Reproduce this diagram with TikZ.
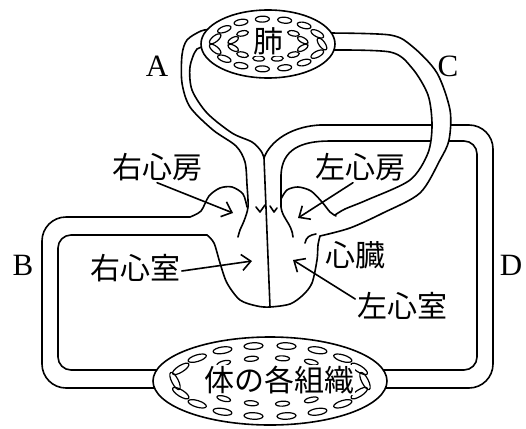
\documentclass[tikz,border=0pt]{standalone}
\usepackage{fontspec}
\setmainfont{Liberation Serif}
\newfontfamily\jp{Noto Sans CJK JP}
\usetikzlibrary{arrows.meta}
\begin{document}
\begin{tikzpicture}[x=1pt,y=-1pt,line width=1.6pt,line join=round,line cap=round,
  jlbl/.style={font=\jp\fontsize{30}{30}\selectfont,inner sep=1pt},
  llbl/.style={font=\fontsize{31}{31}\selectfont,inner sep=0pt},
  arr/.style={-{Straight Barb[length=9pt,width=16pt]}},
  alv/.style={line width=1.2pt}]
\useasboundingbox (0,0) rectangle (526,428);
\draw plot[smooth] coordinates {(212,29) (201,31) (187,40) (182,55) (182,83) (190,107) (213,130) (236,146) (245,162) (247,185) (248,207) (244,221) (240,230) (238,237)};
\draw plot[smooth] coordinates {(210,47) (197,49) (190,67) (192,90) (207,113) (232,133) (252,142) (261,151) (264,158)};
\draw (264,158) -- (270,307);
\draw (264,158) .. controls (268,146) and (285,127) .. (320,125) [rounded corners=24pt] -- (493,125) -- (493,388) -- (383,388);
\draw (293,237) .. controls (292,224) and (282,218) .. (281,207) -- (281,175) .. controls (282,150) and (300,141) .. (330,141) [rounded corners=13pt] -- (477,141) -- (477,370) -- (381,370);
\draw plot[smooth] coordinates {(247,207) (243,194) (232,187) (220,188) (209,196) (201,211) (190,217)};
\draw[rounded corners=24pt] (190,217) -- (42,217) -- (42,388) -- (157,388);
\draw[rounded corners=13pt] (159,370) -- (58,370) -- (58,235) -- (207,235);
\draw plot[smooth] coordinates {(207,235) (214,243) (220,263) (227,283) (240,300) (257,306) (270,307) (290,304) (303,295) (312,283) (317,260) (318,245) (320,236)};
\fill[white] plot[smooth] coordinates {(325,33) (390,35) (413,47) (437,73) (450,110) (449,140) (440,160) (420,193) (383,213) (350,228) (320,236)}
  -- plot[smooth] coordinates {(335,215) (345,209) (367,200) (410,180) (428,153) (432,125) (428,95) (412,68) (390,52) (325,50)} -- cycle;
\draw plot[smooth] coordinates {(325,33) (390,35) (413,47) (437,73) (450,110) (449,140) (440,160) (420,193) (383,213) (350,228) (320,236)};
\draw plot[smooth] coordinates {(325,50) (390,52) (412,68) (428,95) (432,125) (428,153) (410,180) (367,200) (345,209) (335,215)};
\draw plot[smooth] coordinates {(281,199) (287,190) (298,187) (311,191) (322,202) (330,212) (336,216)};
\draw (256,207) -- (260,212) -- (265,205);
\draw (270,206) -- (274,212) -- (277,208);
\draw (305,243) .. controls (306,237) and (310,235) .. (316,234);
\draw[fill=white] (268,44) ellipse [x radius=67,y radius=34];
\foreach \t in {0,24,...,336}
  \draw[alv,shift={({268+54*cos(\t)},{44+25*sin(\t)})},rotate={0.6*(mod(atan2(25*cos(\t),54*sin(\t))+270,180)-90)}] (0,0) ellipse [x radius=7,y radius=3];
\foreach \t in {15,45,...,345}
  \draw[alv,shift={({268+36*cos(\t)},{44+15*sin(\t)})},rotate={0.5*(mod(atan2(15*cos(\t),36*sin(\t))+270,180)-90)}] (0,0) ellipse [x radius=6,y radius=2.6];
\draw[fill=white] (270,381) ellipse [x radius=117,y radius=44];
\foreach \t in {0,20,...,340}
  \draw[alv,shift={({270+95*cos(\t)},{381+35.5*sin(\t)})},rotate={0.7*(mod(atan2(35.5*cos(\t),95*sin(\t))+270,180)-90)}] (0,0) ellipse [x radius=9.5,y radius=3.3];
\foreach \t in {55,80,105,130,230,255,280,305}
  \draw[alv,shift={({270+72*cos(\t)},{381+23*sin(\t)})},rotate={atan2(23*cos(\t),72*sin(\t))}] (0,0) ellipse [x radius=7,y radius=2.5];
\node[jlbl,fill=white] (lung) at (268,41) {肺};
\node[jlbl,fill=white] (tis) at (279,380) {体の各組織};
\node[jlbl] (ra) at (157,167) {右心房};
\node[jlbl] (la) at (360,167) {左心房};
\node[jlbl] (rv) at (135,268) {右心室};
\node[jlbl] (ht) at (355,255) {心臓};
\node[jlbl] (lv) at (402,306) {左心室};
\node[llbl] (a) at (157,66) {A};
\node[llbl] (b) at (23,265) {B};
\node[llbl] (c) at (448,66) {C};
\node[llbl] (d) at (511,265) {D};
\coordinate (ra tip) at (233,213);
\coordinate (la tip) at (298,218);
\coordinate (rv tip) at (252,261);
\coordinate (lv tip) at (293,260);
\draw[arr] (ra.south) -- (ra tip);
\draw[arr] ([xshift=-7pt]la.south) -- (la tip);
\draw[arr] ([yshift=-3pt]rv.east) -- (rv tip);
\draw[arr] ([yshift=7pt]lv.west) -- (lv tip);
\end{tikzpicture}
\end{document}
